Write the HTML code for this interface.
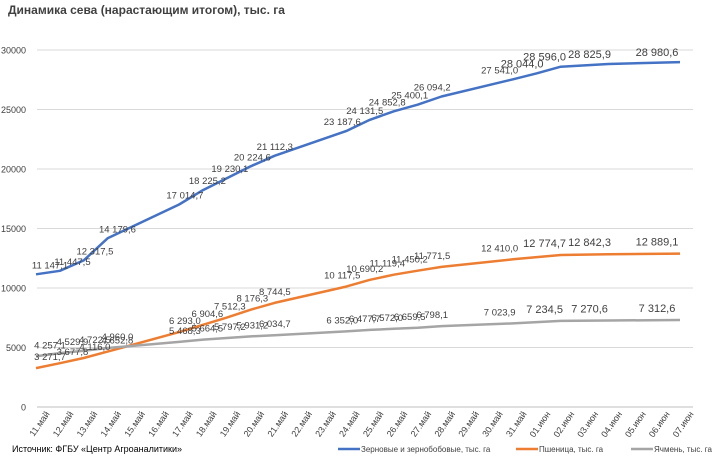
<!DOCTYPE html>
<html><head><meta charset="utf-8"><style>
body{margin:0;background:#fff;}
svg{display:block;font-family:"Liberation Sans",sans-serif;}
</style></head><body>
<svg id="chart" width="719" height="458">
<text x="8" y="14" font-size="12" font-weight="bold" fill="#404040">Динамика сева (нарастающим итогом), тыс. га</text>
<g id="grid"></g><g id="yt"></g><g id="xt"></g><g id="series"></g><g id="labels"></g>
<text x="12" y="452" font-size="9" fill="#000">Источник: ФГБУ «Центр Агроаналитики»</text>
<g>
<line x1="338" y1="449" x2="360" y2="449" stroke="#4472C4" stroke-width="2.5"/>
<text x="361" y="452" font-size="8" fill="#404040">Зерновые и зернобобовые, тыс. га</text>
<line x1="516" y1="449" x2="538" y2="449" stroke="#ED7D31" stroke-width="2.5"/>
<text x="539" y="452" font-size="8" fill="#404040">Пшеница, тыс. га</text>
<line x1="631" y1="449" x2="653" y2="449" stroke="#A5A5A5" stroke-width="2.5"/>
<text x="654" y="452" font-size="8" fill="#404040">Ячмень, тыс. га</text>
</g>
</svg>
<script>
const categories=["11.май","12.май","13.май","14.май","15.май","16.май","17.май","18.май","19.май","20.май","21.май","22.май","23.май","24.май","25.май","26.май","27.май","28.май","29.май","30.май","31.май","01.июн","02.июн","03.июн","04.июн","05.июн","06.июн","07.июн"];
const grain=[11147.1,11447.5,12317.5,14179.6,null,null,17014.7,18225.2,19230.1,20224.6,21112.3,null,null,23187.6,24131.5,24852.8,25400.1,26094.2,null,null,27541.0,28044.0,28596.0,null,28825.9,null,null,28980.6];
const wheat=[3271.7,3677.8,4116.0,4652.8,null,null,6293.0,6904.6,7512.3,8176.3,8744.5,null,null,10117.5,10690.2,11119.4,11450.2,11771.5,null,null,12410.0,null,12774.7,null,12842.3,null,null,12889.1];
const barley=[4257.1,4529.9,4722.5,4960.0,null,null,5468.3,5664.5,5797.2,5931.2,6034.7,null,null,6352.0,6477.7,6572.0,6659.5,6798.1,null,null,7023.9,null,7234.5,null,7270.6,null,null,7312.6];
const yTicks=[0,5000,10000,15000,20000,25000,30000];
const NS="http://www.w3.org/2000/svg";
const X0=36,XL=680,AX0=27,AX1=693,Y0=407,Y1=50,YMAX=30000;
const step=(XL-X0)/(categories.length-1);
function xs(i){return X0+step*i;}
function ys(v){return Y0-(v/YMAX)*(Y0-Y1);}
function fmt(v){const s=v.toFixed(1).split('.');return s[0].replace(/\B(?=(\d{3})+(?!\d))/g,' ')+','+s[1];}
function mk(tag,attrs,parent){const e=document.createElementNS(NS,tag);for(const k in attrs)e.setAttribute(k,attrs[k]);parent.appendChild(e);return e;}
const grid=document.getElementById('grid'),yt=document.getElementById('yt'),xt=document.getElementById('xt');
yTicks.forEach(v=>{
  const l=mk('line',{x1:AX0+10,x2:AX1,y1:ys(v),y2:ys(v),stroke:v===0?'#bfbfbf':'#d9d9d9','stroke-width':1},grid);
  
  
  const t=mk('text',{x:26,y:ys(v)+3.5,'font-size':9,'text-anchor':'end',fill:'#404040'},yt);
  t.textContent=v;
  
  
});
categories.forEach((c,i)=>{
  const x=xs(i)+14;
  const t=mk('text',{x:x,y:414,'font-size':9,'text-anchor':'end',fill:'#404040',transform:`rotate(-55 ${x} 414)`},xt);
  t.textContent=c;
  
  
});
const S=document.getElementById('series'),L=document.getElementById('labels');
[[grain,'#4472C4','grain',-6],[wheat,'#ED7D31','wheat',-8],[barley,'#A5A5A5','barley',-8]].forEach(([arr,col,nm,dy])=>{
  const pts=[];
  arr.forEach((v,i)=>{if(v!==null)pts.push(xs(i).toFixed(1)+','+ys(v).toFixed(1));});
  const p=mk('polyline',{points:pts.join(' '),fill:'none',stroke:col,'stroke-width':2.5,'stroke-linejoin':'round'},S);
  
  
  arr.forEach((v,i)=>{
    if(v===null)return;
    const big=i>=21;
    const dx=14-i*1.37;
    const t=mk('text',{x:xs(i)+dx,y:ys(v)+dy,'font-size':big?11:9.5,'text-anchor':'middle',fill:'#404040'},L);
    t.textContent=fmt(v);
    
    
  });
});
</script>
</body></html>
